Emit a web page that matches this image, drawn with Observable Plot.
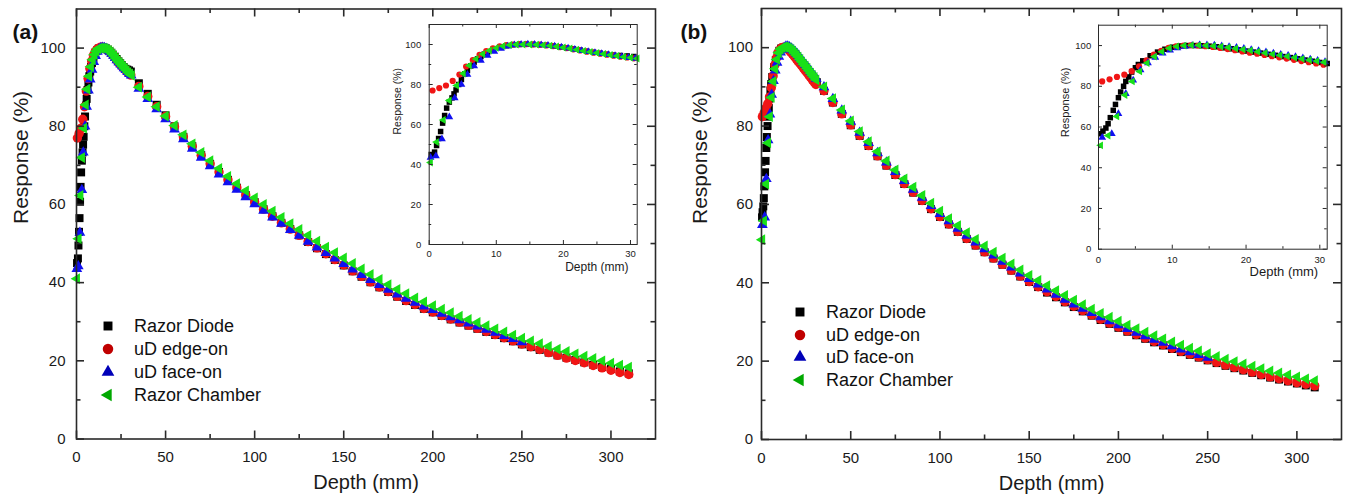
<!DOCTYPE html>
<html><head><meta charset="utf-8">
<script src="https://cdn.jsdelivr.net/npm/d3@7"></script>
<script src="https://cdn.jsdelivr.net/npm/@observablehq/plot@0.6"></script>
<style>
html,body{margin:0;padding:0;background:#fff;}
#root{position:relative;width:1346px;height:501px;overflow:hidden;font-family:"Liberation Sans",Arial,Helvetica,sans-serif;}
.abs{position:absolute;}
.abs svg{display:block;max-width:none;}
.lg{position:absolute;font-size:18px;line-height:22px;color:#111;white-space:nowrap;}
</style></head><body><div id="root"></div>
<script>
// ---------- DATA ----------
const SERIES_NAMES = ["Razor Diode", "uD edge-on", "uD face-on", "Razor Chamber"];
const TAIL_DEPTH = [35,40,45,50,55,60,65,70,75,80,85,90,95,100,105,110,115,120,125,130,135,140,145,150,155,160,165,170,175,180,185,190,195,200,205,210,215,220,225,230,235,240,245,250,255,260,265,270,275,280,285,290,295,300,305,310];

// Panel (a) build-up region
const A_DIODE_D = [0.3,0.8,1.1,1.4,1.7,2.0,2.3,2.6,3.0,3.4,3.7,4.0,4.4,4.8,5.3,5.7,6.2,6.7,7.2,7.7,8.2,8.7,9.5,10.5,11.5,12.5,13.5,14.5,15.5,16.5,17.5,18.5,19.5,20.5,21.5,22.5,23.5,24.5,25.5,26.5,27.5,28.5,29.5,30.5];
const A_DIODE_V = [45.0,46.2,49.5,53.0,56.5,60.7,64.5,68.2,71.2,73.3,75.3,77.3,80.0,82.5,85.3,87.0,89.3,91.2,92.8,94.0,95.2,96.2,97.5,98.6,99.4,99.9,100,100.1,100,99.9,99.6,99.2,98.8,98.3,97.8,97.2,96.6,96.1,95.6,95.1,94.7,94.5,94.3,94.0];
const A_EDGE_D = [0.5,1.5,2.5,3.5,4.5,5.5,6.5,7.5,8.5,9.5,10.5,11.5,12.5,13.5,14.5,15.5,16.5,17.5,18.5,19.5,20.5,21.5,22.5,23.5,24.5,25.5,26.5,27.5,28.5,29.5,30.5];
const A_EDGE_V = [77.0,78.2,79.5,81.8,85.0,89.0,92.2,94.8,96.7,98.1,99.1,99.7,100,100.2,100.2,100.1,99.9,99.6,99.2,98.7,98.2,97.6,97.0,96.4,95.9,95.4,94.9,94.4,93.9,93.5,93.1];
const A_FACE_D = [0.2,1.0,1.9,3.0,3.8,4.8,5.7,6.7,7.7,8.7,9.7,10.7,11.7,12.7,13.7,14.7,15.7,16.7,17.7,18.7,19.7,20.7,21.7,22.7,23.7,24.7,25.7,26.7,27.7,28.7,29.7,30.7];
const A_FACE_V = [43.5,44.2,52.8,63.7,73.3,80.0,85.0,89.2,92.0,94.5,96.5,98.0,99.1,99.7,100,100.1,100,99.8,99.5,99.1,98.6,98.1,97.5,96.9,96.4,95.9,95.4,94.9,94.4,93.9,93.4,93.0];
const A_CHAMBER_D = [0.2,1.1,2.1,3.0,4.1,5.1,6,7,8,9,10,11,12,13,14,15,16,17,18,19,20,21,22,23,24,25,26,27,28,29,30,31];
const A_CHAMBER_V = [41.0,51.2,62.3,72.0,79.5,85.5,89.5,92.8,95.2,97.0,98.3,99.2,99.8,100,100,100,99.9,99.7,99.4,99.0,98.5,98.0,97.4,96.8,96.3,95.8,95.3,94.8,94.3,93.8,93.4,93.0];
// Panel (a) deep region (at TAIL_DEPTH)
const A_DIODE_TAIL = [91.0,88.3,85.5,82.8,80.0,77.3,74.9,72.6,70.4,68.3,66.3,64.3,62.4,60.6,58.8,57.0,55.3,53.7,52.1,50.4,48.8,47.3,45.8,44.4,42.9,41.5,40.1,38.8,37.6,36.4,35.3,34.3,33.3,32.4,31.5,30.6,29.8,29.0,28.2,27.4,26.6,25.8,25.0,24.2,23.5,22.8,22.1,21.4,20.8,20.2,19.6,19.0,18.4,17.9,17.3,16.8];
const A_EDGE_TAIL = [90.2,87.6,85.0,82.5,79.9,77.3,74.9,72.6,70.4,68.3,66.3,64.3,62.4,60.6,58.8,57.0,55.3,53.7,52.1,50.5,48.9,47.4,45.9,44.5,43.0,41.6,40.2,38.9,37.7,36.5,35.4,34.4,33.4,32.5,31.6,30.7,29.9,29.1,28.3,27.5,26.7,25.9,25.1,24.3,23.6,22.9,22.1,21.4,20.7,20.1,19.5,18.8,18.2,17.6,17.0,16.5];
const A_FACE_TAIL = [89.6,87.0,84.4,81.8,79.2,76.7,74.3,72.0,69.8,67.7,65.7,63.8,61.9,60.1,58.4,56.7,55.1,53.5,52.0,50.5,49.0,47.6,46.2,44.8,43.4,42.0,40.7,39.4,38.2,37.0,35.9,34.9,33.9,33.0,32.1,31.2,30.4,29.6,28.8,28.0,27.2,26.4,25.6,24.8];
const A_CHAMBER_TAIL = [90.0,87.5,85.0,82.6,80.2,77.8,75.5,73.3,71.2,69.2,67.2,65.3,63.5,61.7,60.0,58.3,56.7,55.1,53.6,52.1,50.6,49.1,47.7,46.3,44.9,43.5,42.1,40.8,39.5,38.3,37.2,36.1,35.1,34.1,33.2,32.3,31.4,30.6,29.8,29.0,28.2,27.4,26.6,25.8,25.1,24.4,23.7,23.0,22.4,21.8,21.2,20.6,20.0,19.4,18.9,18.4];

// Panel (b) build-up region
const B_DIODE_D = [0.3,0.6,1.0,1.3,1.6,2.0,2.3,2.7,3.0,3.4,3.7,4.1,4.5,5.0,5.4,6,7,8,9,10,11,12,13,14,15,16,17,18,19,20,21,22,23,24,25,26,27,28,29,30,31];
const B_DIODE_V = [56.7,58.0,59.5,61.6,64.6,68.2,71.1,74.4,77.2,80.0,82.4,84.6,87.0,89.1,90.7,92.5,95.0,96.8,98.2,99.2,99.8,100,100,99.9,99.7,99.4,98.9,98.4,97.9,97.3,96.8,96.3,95.7,95.2,94.6,94.1,93.5,92.9,92.3,91.7,91.2];
const B_EDGE_D = [0.5,1.5,2.5,3.5,4.5,5.5,6.5,7.5,8.5,9.5,10.5,11.5,12.5,13.5,14.5,15.5,16.5,17.5,18.5,19.5,20.5,21.5,22.5,23.5,24.5,25.5,26.5,27.5,28.5,29.5,30.5];
const B_EDGE_V = [82.4,83.4,84.6,85.7,87.4,89.8,92.8,95.6,97.4,98.9,99.6,100,100.1,100,99.7,99.3,98.8,98.3,97.7,97.1,96.5,96.0,95.4,94.8,94.2,93.6,93.0,92.4,91.8,91.2,90.6];
const B_FACE_D = [0.5,1.8,2.7,3.7,4.7,5.7,6.7,7.7,8.7,9.7,10.7,11.7,12.7,13.7,14.7,15.7,16.7,17.7,18.7,19.7,20.7,21.7,22.7,23.7,24.7,25.7,26.7,27.7,28.7,29.7,30.7];
const B_FACE_V = [54.8,56.7,66.5,76.4,83.0,88.0,91.5,94.2,96.2,97.7,98.8,99.5,100,100.3,100.3,100.1,99.8,99.4,99.0,98.5,98.0,97.4,96.8,96.2,95.6,95.1,94.5,93.9,93.3,92.7,92.1];
const B_CHAMBER_D = [0.3,1.3,2.5,3.6,4.6,5.6,6.6,7.6,8.6,9.6,10.6,11.6,12.6,13.6,14.6,15.6,16.6,17.6,18.6,19.6,20.6,21.6,22.6,23.6,24.6,25.6,26.6,27.6,28.6,29.6,30.6];
const B_CHAMBER_V = [51.0,55.8,65.2,75.7,82.4,87.3,91.4,94.6,97.0,98.7,99.6,100,100.2,100.2,100,99.8,99.5,99.1,98.6,98.1,97.6,97.0,96.4,95.8,95.3,94.7,94.1,93.5,92.9,92.4,91.8];
// Panel (b) deep region (at TAIL_DEPTH)
const B_DIODE_TAIL = [89.0,86.0,83.1,80.2,77.5,74.9,72.3,69.9,67.5,65.2,63.0,60.9,58.8,56.8,54.9,53.0,51.2,49.5,47.8,46.2,44.6,43.1,41.6,40.2,38.9,37.5,36.3,35.0,33.8,32.7,31.6,30.5,29.5,28.5,27.5,26.6,25.7,24.8,24.0,23.1,22.3,21.6,20.9,20.2,19.5,18.8,18.2,17.6,17.0,16.4,15.8,15.3,14.8,14.3,13.8,13.3];
const B_EDGE_TAIL = [89.0,86.0,83.1,80.3,77.6,75.0,72.4,70.0,67.6,65.3,63.1,61.0,58.9,56.9,55.0,53.1,51.3,49.6,47.9,46.3,44.7,43.2,41.7,40.3,39.0,37.7,36.5,35.2,34.0,32.9,31.8,30.7,29.7,28.7,27.7,26.8,25.9,25.0,24.2,23.3,22.5,21.8,21.1,20.4,19.7,19.0,18.4,17.8,17.2,16.6,16.0,15.5,15.0,14.5,14.1,13.7];
const B_FACE_TAIL = [89.9,86.9,84.0,81.1,78.3,75.7,73.1,70.7,68.3,66.0,63.8,61.7,59.6,57.6,55.7,53.8,52.0,50.3,48.6,47.0,45.4,43.9,42.4,41.0,39.6,38.3,37.0,35.7,34.5,33.4,32.3,31.2,30.2,29.2,28.2,27.3,26.4,25.5,24.7,23.8,23.0,22.3,21.6,20.9];
const B_CHAMBER_TAIL = [90.0,87.0,84.1,81.3,78.6,76.0,73.5,71.1,68.8,66.5,64.4,62.3,60.3,58.3,56.4,54.6,52.8,51.1,49.4,47.8,46.3,44.8,43.3,41.9,40.6,39.3,38.0,36.8,35.6,34.4,33.3,32.2,31.2,30.2,29.2,28.3,27.4,26.5,25.7,24.9,24.1,23.3,22.6,21.9,21.2,20.5,19.9,19.3,18.7,18.1,17.5,17.0,16.5,16.0,15.5,15.0];

// Ticks
const MAIN_X_MAJOR = [0,50,100,150,200,250,300];
const MAIN_X_MINOR = [25,75,125,175,225,275];
const Y_MAJOR = [0,20,40,60,80,100];
const Y_MINOR = [10,30,50,70,90];
const INSET_X_MAJOR = [0,10,20,30];
const INSET_X_MINOR = [5,15,25];

// ---------- RENDERING ----------
const FONT = '"Liberation Sans", Arial, Helvetica, sans-serif';
const DATA_COLORS = ["#000000", "#f01515", "#1010f0", "#18e018"];
const LEGEND_COLORS = ["#000000", "#c00000", "#0000b8", "#00a800"];

const triLeft = {
  draw(ctx, size) {
    const a = Math.sqrt(size * 4 / Math.sqrt(3));
    const h = a * Math.sqrt(3) / 2;
    ctx.moveTo(-2 * h / 3, 0);
    ctx.lineTo(h / 3, -a / 2);
    ctx.lineTo(h / 3, a / 2);
    ctx.closePath();
  }
};
const SYMBOLS = ["square", "circle", "triangle", triLeft];
const D3SYM = [d3.symbolSquare, d3.symbolCircle, d3.symbolTriangle, triLeft];

function zip(ds, vs) { return vs.map((v, i) => ({d: ds[i], v})); }
function seriesFor(p) {
  return [
    zip(p.dD, p.dV).concat(zip(TAIL_DEPTH, p.dT)),
    zip(p.eD, p.eV).concat(zip(TAIL_DEPTH, p.eT)),
    zip(p.fD, p.fV).concat(zip(TAIL_DEPTH, p.fT)),
    zip(p.cD, p.cV).concat(zip(TAIL_DEPTH, p.cT))
  ];
}
const SER_A = seriesFor({dD: A_DIODE_D, dV: A_DIODE_V, dT: A_DIODE_TAIL, eD: A_EDGE_D, eV: A_EDGE_V, eT: A_EDGE_TAIL,
  fD: A_FACE_D, fV: A_FACE_V, fT: A_FACE_TAIL, cD: A_CHAMBER_D, cV: A_CHAMBER_V, cT: A_CHAMBER_TAIL});
const SER_B = seriesFor({dD: B_DIODE_D, dV: B_DIODE_V, dT: B_DIODE_TAIL, eD: B_EDGE_D, eV: B_EDGE_V, eT: B_EDGE_TAIL,
  fD: B_FACE_D, fV: B_FACE_V, fT: B_FACE_TAIL, cD: B_CHAMBER_D, cV: B_CHAMBER_V, cT: B_CHAMBER_TAIL});

function panel(o) {
  const iw = o.width - o.ml - o.mr, ih = o.height - o.mt - o.mb;
  const st = {stroke: "#2a2a2a", strokeWidth: o.sw};
  const marks = [];
  o.series.forEach((rows, k) => {
    marks.push(Plot.dot(rows.filter(r => r.d <= o.xMax + 0.05), {
      x: "d", y: "v", symbol: SYMBOLS[k], r: o.r[k], fill: DATA_COLORS[k], stroke: "none"
    }));
  });
  marks.push(
    Plot.frame(st),
    Plot.tickX(o.xMajor, {x: d => d, insetTop: ih - o.tl, ...st}),
    Plot.tickX(o.xMajor, {x: d => d, insetBottom: ih - o.tl, ...st}),
    Plot.tickX(o.xMinor, {x: d => d, insetTop: ih - o.tm, ...st}),
    Plot.tickX(o.xMinor, {x: d => d, insetBottom: ih - o.tm, ...st}),
    Plot.tickY(Y_MAJOR, {y: d => d, insetRight: iw - o.tl, ...st}),
    Plot.tickY(Y_MAJOR, {y: d => d, insetLeft: iw - o.tl, ...st}),
    Plot.tickY(Y_MINOR, {y: d => d, insetRight: iw - o.tm, ...st}),
    Plot.tickY(Y_MINOR, {y: d => d, insetLeft: iw - o.tm, ...st}),
    Plot.axisX(o.xMajor, {anchor: "bottom", tickSize: 0, tickPadding: o.xPad, fontSize: o.tf, label: null}),
    Plot.axisY(Y_MAJOR, {anchor: "left", tickSize: 0, tickPadding: o.yPad, fontSize: o.tf, label: null}),
    Plot.text([o.xLabel], {text: d => d, frameAnchor: o.xLabelAnchor, textAnchor: o.xLabelTA, dx: o.xLabelDx, dy: o.xLabelDy, fontSize: o.xLabelFont, fill: "#1a1a1a"}),
    Plot.text([o.yLabel], {text: d => d, frameAnchor: "left", dx: o.yLabelDx, rotate: -90, fontSize: o.yLabelFont, fill: "#1a1a1a"})
  );
  if (o.tag) marks.push(Plot.text([o.tag], {text: d => d, frameAnchor: "top-left", textAnchor: "start", dx: o.tagDx, dy: o.tagDy, fontSize: 21, fontWeight: "bold", fill: "#111"}));
  const svg = Plot.plot({
    width: o.width, height: o.height,
    marginLeft: o.ml, marginRight: o.mr, marginTop: o.mt, marginBottom: o.mb,
    x: {domain: [0, o.xMax]}, y: {domain: [0, 110]},
    style: {fontFamily: FONT, background: "transparent", color: "#1a1a1a", overflow: "visible"},
    marks
  });
  const div = document.createElement("div");
  div.className = "abs";
  div.style.left = o.left + "px"; div.style.top = o.top + "px";
  div.style.width = o.width + "px"; div.style.height = o.height + "px";
  div.appendChild(svg);
  document.getElementById("root").appendChild(div);
}

const MAIN_R = [4.5, 4.7, 4.0, 4.0];
const INSET_R = [3.1, 3.1, 2.9, 2.9];

// Panel (a)
panel({left: 0, top: 0, width: 673, height: 501, ml: 76, mr: 18, mt: 8.5, mb: 62.5, xMax: 325,
  xMajor: MAIN_X_MAJOR, xMinor: MAIN_X_MINOR, series: SER_A, r: MAIN_R, sw: 1.6, tl: 8, tm: 4.5,
  xPad: 12.7, yPad: 11, tf: 15, xLabel: "Depth (mm)", xLabelAnchor: "bottom", xLabelTA: "middle", xLabelDx: 0, xLabelDy: 49.5, xLabelFont: 20,
  yLabel: "Response (%)", yLabelDx: -55, yLabelFont: 21, tag: "(a)", tagDx: -64, tagDy: 15});
// Panel (b)
panel({left: 673, top: 0, width: 673, height: 501, ml: 88, mr: 5, mt: 8, mb: 62, xMax: 325,
  xMajor: MAIN_X_MAJOR, xMinor: MAIN_X_MINOR, series: SER_B, r: MAIN_R, sw: 1.6, tl: 8, tm: 4.5,
  xPad: 12.4, yPad: 8.5, tf: 15, xLabel: "Depth (mm)", xLabelAnchor: "bottom", xLabelTA: "middle", xLabelDx: 0, xLabelDy: 50, xLabelFont: 20,
  yLabel: "Response (%)", yLabelDx: -61, yLabelFont: 21, tag: "(b)", tagDx: -81, tagDy: 16});
// Inset (a)
panel({left: 360, top: 0, width: 290, height: 290, ml: 68.7, mr: 13.3, mt: 24, mb: 46, xMax: 31,
  xMajor: INSET_X_MAJOR, xMinor: INSET_X_MINOR, series: SER_A, r: INSET_R, sw: 1, tl: 4, tm: 2.5,
  xPad: 5.6, yPad: 8, tf: 9.5, xLabel: "Depth (mm)", xLabelAnchor: "bottom-right", xLabelTA: "end", xLabelDx: -8.7, xLabelDy: 26, xLabelFont: 12,
  yLabel: "Response (%)", yLabelDx: -31.7, yLabelFont: 10.5});
// Inset (b)
panel({left: 1030, top: 0, width: 306, height: 295, ml: 68, mr: 9.3, mt: 24.7, mb: 46.3, xMax: 31,
  xMajor: INSET_X_MAJOR, xMinor: INSET_X_MINOR, series: SER_B, r: INSET_R, sw: 1, tl: 4, tm: 2.5,
  xPad: 7.2, yPad: 7.3, tf: 9.5, xLabel: "Depth (mm)", xLabelAnchor: "bottom-right", xLabelTA: "end", xLabelDx: -9, xLabelDy: 26.3, xLabelFont: 13,
  yLabel: "Response (%)", yLabelDx: -33, yLabelFont: 11});

// Legends
const LEGEND_AREA = [80, 86, 70, 70];
function legend(mx, y0, dy, tx) {
  const root = document.getElementById("root");
  SERIES_NAMES.forEach((name, k) => {
    const cy = y0 + k * dy;
    const s = document.createElementNS("http://www.w3.org/2000/svg", "svg");
    s.setAttribute("width", 24); s.setAttribute("height", 24);
    s.style.position = "absolute"; s.style.left = (mx - 12) + "px"; s.style.top = (cy - 12) + "px";
    const p = document.createElementNS("http://www.w3.org/2000/svg", "path");
    p.setAttribute("d", d3.symbol(D3SYM[k], LEGEND_AREA[k])());
    p.setAttribute("transform", "translate(12,12)");
    p.setAttribute("fill", LEGEND_COLORS[k]);
    s.appendChild(p); root.appendChild(s);
    const t = document.createElement("div");
    t.className = "lg"; t.textContent = name;
    t.style.left = tx + "px"; t.style.top = (cy - 11) + "px";
    root.appendChild(t);
  });
}
legend(108, 326, 23, 134);
legend(800, 312, 22.5, 826);
</script></body></html>
